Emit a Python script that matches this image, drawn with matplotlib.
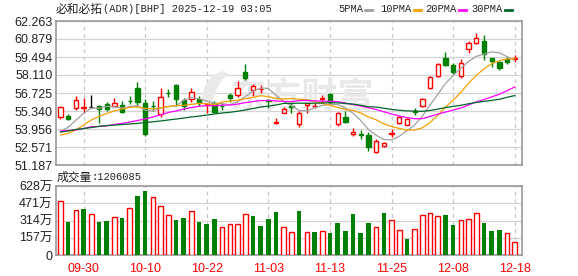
import numpy as np
import pandas as pd
import matplotlib
matplotlib.use("Agg")
import matplotlib.pyplot as plt
from matplotlib.patches import Rectangle, Polygon
from matplotlib.lines import Line2D

W, H = 578, 276

# 日足データ (2025-09-25 .. 2025-12-18, 60本)
opens = [54.90, 54.95, 55.59, 55.60, 55.67, 55.70, 55.88, 55.75, 55.80, 56.14,
         57.11, 55.98, 55.75, 55.09, 56.75, 57.36, 56.19, 56.25, 56.24, 55.80,
         55.98, 55.75, 56.57, 56.57, 58.34, 56.93, 57.00, 56.16, 54.42, 55.21,
         55.70, 54.32, 55.78, 55.70, 56.27, 56.65, 54.32, 54.85, 53.57, 53.55,
         53.47, 52.22, 52.62, 53.60, 54.39, 54.29, 55.32, 55.75, 57.09, 58.06,
         59.42, 58.88, 58.03, 60.09, 60.55, 60.70, 59.39, 59.11, 59.32, 59.37]
highs = [55.72, 55.11, 56.49, 56.32, 56.57, 55.80, 56.03, 56.32, 56.09, 56.49,
         57.57, 56.24, 56.09, 57.11, 57.01, 57.42, 56.35, 57.11, 56.49, 55.98,
         56.13, 55.93, 56.70, 57.65, 58.95, 57.39, 57.32, 56.24, 54.78, 55.67,
         55.93, 55.36, 55.95, 55.98, 56.57, 56.75, 55.29, 55.36, 54.06, 53.88,
         53.75, 53.15, 52.98, 53.93, 54.95, 54.80, 55.59, 56.36, 58.03, 59.05,
         59.88, 59.01, 59.32, 60.75, 61.36, 61.15, 59.45, 59.21, 59.47, 59.65]
lows = [54.75, 54.65, 55.42, 55.21, 55.67, 54.44, 55.36, 55.67, 55.21, 55.88,
        55.67, 53.42, 55.36, 54.90, 56.42, 55.72, 55.40, 56.01, 55.72, 55.17,
        55.24, 55.42, 56.06, 56.42, 57.75, 56.49, 56.75, 55.55, 54.32, 55.17,
        55.17, 54.13, 55.21, 55.55, 55.98, 55.90, 54.19, 54.39, 53.42, 53.21,
        52.29, 52.11, 52.55, 53.31, 54.32, 54.25, 55.03, 55.62, 57.03, 57.93,
        58.80, 58.19, 57.85, 59.80, 60.49, 59.26, 58.70, 58.49, 58.98, 59.13]
closes = [55.62, 54.75, 56.16, 55.64, 55.67, 55.52, 55.50, 55.96, 55.24, 56.12,
          56.05, 53.59, 55.70, 56.42, 56.70, 56.24, 55.72, 56.78, 55.93, 55.85,
          55.29, 55.70, 56.36, 57.09, 57.85, 57.24, 57.05, 56.11, 54.46, 55.47,
          55.65, 55.21, 55.93, 55.74, 56.31, 56.05, 55.21, 54.52, 53.75, 53.50,
          52.60, 53.00, 52.88, 53.64, 54.85, 54.72, 55.27, 56.24, 57.93, 58.93,
          58.88, 58.36, 59.01, 60.55, 60.93, 59.72, 59.21, 58.68, 59.09, 59.41]

# 成交量 (万)
volumes = [492, 304, 410, 419, 374, 296, 314, 347, 338, 429,
           537, 583, 528, 447, 365, 323, 338, 401, 304, 284,
           329, 256, 281, 281, 371, 356, 265, 329, 392, 256,
           208, 401, 208, 211, 220, 202, 293, 220, 374, 202,
           293, 254, 383, 320, 229, 148, 238, 362, 380, 356,
           365, 275, 320, 326, 380, 293, 220, 229, 199, 120.6085]
# 前日比 上げ=1 (赤) / 下げ=0 (緑)
vol_up = [1, 0, 1, 0, 1, 0, 0, 1, 0, 1,
          0, 0, 1, 1, 1, 0, 0, 1, 0, 0,
          0, 1, 1, 1, 1, 0, 0, 0, 0, 1,
          1, 0, 1, 0, 1, 0, 0, 0, 0, 0,
          0, 1, 0, 1, 1, 0, 1, 1, 1, 1,
          0, 0, 1, 1, 1, 0, 0, 0, 1, 1]

# 期間の前のデータが必要な移動平均の先頭部分
ma5_head = [53.75, 54.10, 54.63, 55.16]
ma10_head = [53.49, 53.62, 53.88, 54.26, 54.65, 54.92, 55.15, 55.35, 55.50]
ma20_head = [53.80, 53.84, 53.88, 53.99, 54.13, 54.15, 54.19, 54.30, 54.39, 54.49,
             54.61, 54.72, 54.88, 55.03, 55.23, 55.34, 55.49, 55.61, 55.70]
ma30_head = [53.72, 53.80, 53.92, 53.99, 54.07, 54.16, 54.22, 54.26, 54.30, 54.34,
             54.39, 54.45, 54.51, 54.57, 54.65, 54.72, 54.80, 54.88, 54.95, 55.03,
             55.11, 55.19, 55.24, 55.32, 55.42, 55.53, 55.65, 55.72, 55.80]

tick_idx = [3, 11, 19, 27, 35, 43, 51, 59]
tick_labels = ["09-30", "10-10", "10-22", "11-03", "11-13", "11-25", "12-08", "12-18"]
price_ticks = [51.187, 52.571, 53.956, 55.340, 56.725, 58.110, 59.494, 60.879, 62.263]
vol_ticks = [0, 157, 314, 471, 628]

RED = "#ff0000"
GREEN = "#008000"
GRID = "#d4d4d4"
FRAME = "#9a9a9a"
TXT = "#222222"
WMARK = "#e9e9e9"
FONT = ["Liberation Sans", "Noto Sans CJK SC"]
MONO = ["Liberation Mono", "Noto Sans CJK SC"]
CJK = ["Noto Sans CJK SC"]


def px(x, y):
    return x / W, 1 - y / H


def moving_average(n, head):
    ma = pd.Series(closes).rolling(n).mean().to_numpy()
    ma[:len(head)] = head
    return ma


def style_axes(ax):
    for s in ax.spines.values():
        s.set_color(FRAME)
        s.set_linewidth(1.2)
    ax.tick_params(length=0, colors=TXT, labelsize=9, pad=2.5)
    ax.grid(which="major", axis="y", color=GRID, linewidth=0.9)
    for i in tick_idx:
        ax.axvline(i, color="#c8c8c8", linewidth=0.9, linestyle=(0, (3, 3)), zorder=0)
    ax.set_xlim(-0.58, 59.94)
    ax.set_axisbelow(True)


def main():
    fig = plt.figure(figsize=(W / 100, H / 100), dpi=100)
    fig.patch.set_facecolor("white")

    ax = fig.add_axes([56 / W, 1 - 165 / H, 466 / W, 144 / H])
    axv = fig.add_axes([56 / W, 1 - 255 / H, 466 / W, 69 / H])

    # 透かし (ロゴ + 文字)
    logo = [(200, 104), (205, 85), (213, 75), (223, 71), (228, 74), (221, 81),
            (216, 91), (212, 104)]
    ax.add_patch(Polygon([px(*p) for p in logo], closed=True, facecolor=WMARK,
                         edgecolor="none", transform=fig.transFigure, zorder=1))
    ax.text(*px(302.5, 97), "东方财富", family=CJK, fontsize=26, fontweight="bold",
            color=WMARK, ha="center", va="center", transform=fig.transFigure,
            zorder=1)

    # ローソク足
    n = len(closes)
    bw = 0.56
    for i in range(n):
        o, h, l, c = opens[i], highs[i], lows[i], closes[i]
        if c > o:
            col, face = RED, "white"
        elif c < o:
            col, face = GREEN, GREEN
        else:
            col, face = "black", "black"
        ax.plot([i, i], [l, h], color=col, linewidth=1.0, zorder=3, solid_capstyle="butt")
        bottom = min(o, c)
        height = max(abs(c - o), 0.001)
        ax.add_patch(Rectangle((i - bw / 2, bottom), bw, height, facecolor=face,
                               edgecolor=col, linewidth=1.0, zorder=4))

    # 移動平均線
    x = np.arange(n)
    ax.plot(x, moving_average(5, ma5_head), color="#a0a0a0", linewidth=0.9, zorder=5)
    ax.plot(x, moving_average(10, ma10_head), color="#f5a000", linewidth=0.9, zorder=5)
    ax.plot(x, moving_average(20, ma20_head), color="#ff00ff", linewidth=0.9, zorder=5)
    ax.plot(x, moving_average(30, ma30_head), color="#00662a", linewidth=0.9, zorder=5)

    style_axes(ax)
    ax.set_ylim(price_ticks[0], price_ticks[-1])
    ax.set_yticks(price_ticks)
    ax.set_yticklabels(["%.3f" % t for t in price_ticks], family=FONT)
    ax.set_xticks(tick_idx)
    ax.set_xticklabels([])

    # 出来高
    for i in range(n):
        if vol_up[i]:
            axv.bar(i, volumes[i], width=0.6, facecolor="white", edgecolor=RED,
                    linewidth=1.0, zorder=3)
        else:
            axv.bar(i, volumes[i], width=0.6, color=GREEN, linewidth=0, zorder=3)
    style_axes(axv)
    axv.set_ylim(0, 628)
    axv.set_yticks(vol_ticks)
    axv.set_yticklabels(["0"] + ["%d万" % v for v in vol_ticks[1:]], family=FONT)
    axv.set_xticks(tick_idx)
    axv.set_xticklabels(tick_labels, family=FONT, color=RED)
    axv.tick_params(axis="x", pad=5.5, colors=RED)

    # タイトル
    fig.text(*px(56, 9), "必和必拓", family=CJK, fontsize=8.5, color=TXT, va="center")
    fig.text(*px(103, 9), "(ADR)[BHP] 2025-12-19 03:05", family=MONO, fontsize=7.5,
             color=TXT, va="center")
    fig.text(*px(57, 177), "成交量", family=CJK, fontsize=8.5, color=TXT, va="center")
    fig.text(*px(91.5, 177), ":1206085", family=MONO, fontsize=7.5, color=TXT, va="center")

    # 凡例
    legend = [("5PMA", 338, "#a0a0a0"), ("10PMA", 380, "#f5a000"),
              ("20PMA", 425.5, "#ff00ff"), ("30PMA", 471.5, "#00662a")]
    for label, lx, col in legend:
        fig.text(*px(lx, 9), label, family=MONO, fontsize=7.5, color=TXT, va="center")
        ex = lx + len(label) * 6.1 + 3
        fig.add_artist(Line2D([ex / W, (ex + 7) / W], [1 - 10 / H, 1 - 10 / H],
                              color=col, linewidth=2.0, transform=fig.transFigure))

    fig.savefig("out.png", dpi=100)


if __name__ == '__main__':
    main()
